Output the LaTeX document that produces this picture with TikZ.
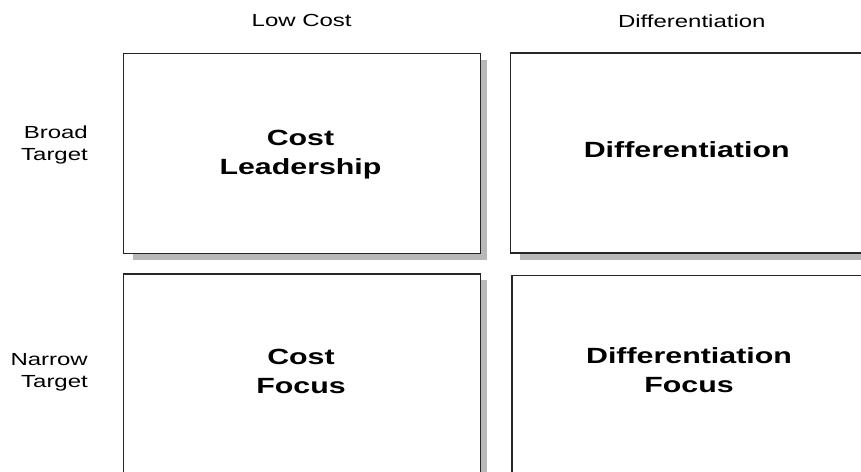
\documentclass[tikz,border=0pt]{standalone}
\usepackage{fontspec}
\usepackage{graphicx}
\setmainfont{Liberation Sans}
\usetikzlibrary{backgrounds}
\newcommand\hsx[1]{\scalebox{1.37}[1]{#1}}
\newcommand\bsx[1]{\scalebox{1.38}[1]{#1}}
\tikzset{
  quad/.style={rectangle, draw=black!85, line width=1.2pt, fill=white, inner sep=0pt,
    minimum width=356.8pt, minimum height=200pt},
  bigtxt/.style={font=\fontsize{22}{29}\selectfont\bfseries, align=center, inner sep=0pt},
  axtxt/.style={font=\fontsize{17.5}{22.4}\selectfont, inner sep=0pt},
  shadefill/.style={fill=black!28},
}
\begin{document}
\begin{tikzpicture}[x=1pt,y=-1pt]
\useasboundingbox (0,0) rectangle (861,471);
\clip (0,0) rectangle (861,471);
% boxes
\node[quad] (tl) at (301.9,153.3) {};
\node[quad] (tr) at (688.7,152.9) {};
\node[quad] (bl) at (301.9,374.0) {};
\node[quad] (br) at (690.4,375.2) {};
\begin{pgfonlayer}{background}
  \fill[white] (0,0) rectangle (861,471);
  \foreach \b in {tl,tr,bl,br}{
    \fill[shadefill] ([shift={(10,7)}]\b.north west) rectangle ([shift={(6.5,6)}]\b.south east);
  }
\end{pgfonlayer}
% box texts
\node[bigtxt] (tlt) at (300.5,154.8) {\bsx{Cost}\\\bsx{Leadership}};
\node[bigtxt] (trt) at (686.7,149.5) {\bsx{Differentiation}};
\node[bigtxt] (blt) at (301,371.3) {\bsx{Cost}\\\bsx{Focus}};
\node[bigtxt] (brt) at (689,370) {\bsx{Differentiation}\\\bsx{Focus}};
% axis labels
\node[axtxt, anchor=base] (lc) at (301.7,26.7) {\hsx{Low Cost}};
\node[axtxt, anchor=base] (df) at (691.8,27.5) {\hsx{Differentiation}};
\node[axtxt, align=right, anchor=east] (bt) at (88,145) {\hsx{Broad}\\\hsx{Target}};
\node[axtxt, align=right, anchor=east] (nt) at (88,372.4) {\hsx{Narrow}\\\hsx{Target}};
\end{tikzpicture}
\end{document}
